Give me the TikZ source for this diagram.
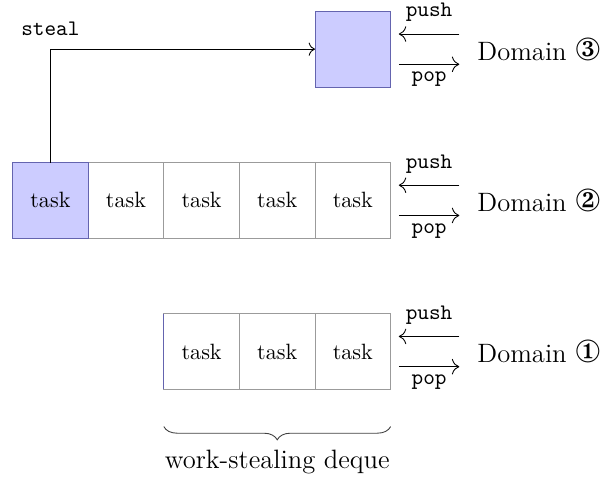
\documentclass[tikz,border=0pt]{standalone}
\usepackage{pifont}
\usetikzlibrary{decorations.pathreplacing,arrows.meta}
\definecolor{cellfill}{RGB}{204,204,255}
\definecolor{cellblue}{RGB}{100,100,175}
\definecolor{cellgray}{RGB}{155,155,155}
\tikzset{
  cell/.style={draw=cellgray, minimum width=1.2cm, minimum height=1.2cm, inner sep=0pt, outer sep=0pt, anchor=west},
  bluecell/.style={cell, draw=cellblue, fill=cellfill},
  opl/.style={-{To[scale=1.35]}},
  dom/.style={font=\large, anchor=base west, inner sep=0pt},
}
\begin{document}
\begin{tikzpicture}
\useasboundingbox (0,0) rectangle (9.65,-7.62);
% Domain 3
\node[bluecell] (b3) at (5.0,-0.78) {};
% Domain 2
\node[cell] (r2b) at (1.4,-3.18) {task};
\node[cell] (r2c) at (2.6,-3.18) {task};
\node[cell] (r2d) at (3.8,-3.18) {task};
\node[cell] (r2e) at (5.0,-3.18) {task};
\node[bluecell] (r2a) at (0.2,-3.18) {task};
% Domain 1
\node[cell] (r1a) at (2.6,-5.58) {task};
\node[cell] (r1b) at (3.8,-5.58) {task};
\node[cell] (r1c) at (5.0,-5.58) {task};
\draw[cellblue] (r1a.north west) -- (r1a.south west);
% push/pop arrows
\foreach \n in {b3,r2e,r1c}{
  \draw[opl] ([xshift=1.09cm,yshift=0.24cm]\n.east) -- ([xshift=0.13cm,yshift=0.24cm]\n.east)
     node[midway, above, yshift=2pt] {\texttt{push}};
  \draw[opl] ([xshift=0.13cm,yshift=-0.24cm]\n.east) -- ([xshift=1.09cm,yshift=-0.24cm]\n.east)
     node[midway, below] {\texttt{pop}};
}
\node[dom] (d3) at (7.57,-0.96) {Domain {\Large\ding{174}}};
\node[dom] (d2) at (7.57,-3.36) {Domain {\Large\ding{173}}};
\node[dom] (d1) at (7.57,-5.76) {Domain {\Large\ding{172}}};
% steal
\draw[-{To[scale=1.15]}] (r2a.north) |- (b3.west) node[pos=0.5, above, yshift=2.4pt] {\texttt{steal}};
% brace
\draw[decorate, decoration={brace, mirror, amplitude=6pt}, black!75]
  ([yshift=-0.59cm]r1a.south west) -- ([yshift=-0.59cm]r1c.south east);
\node[font=\large, anchor=base] (lbl) at (4.4,-7.44) {work-stealing deque};
\end{tikzpicture}
\end{document}
